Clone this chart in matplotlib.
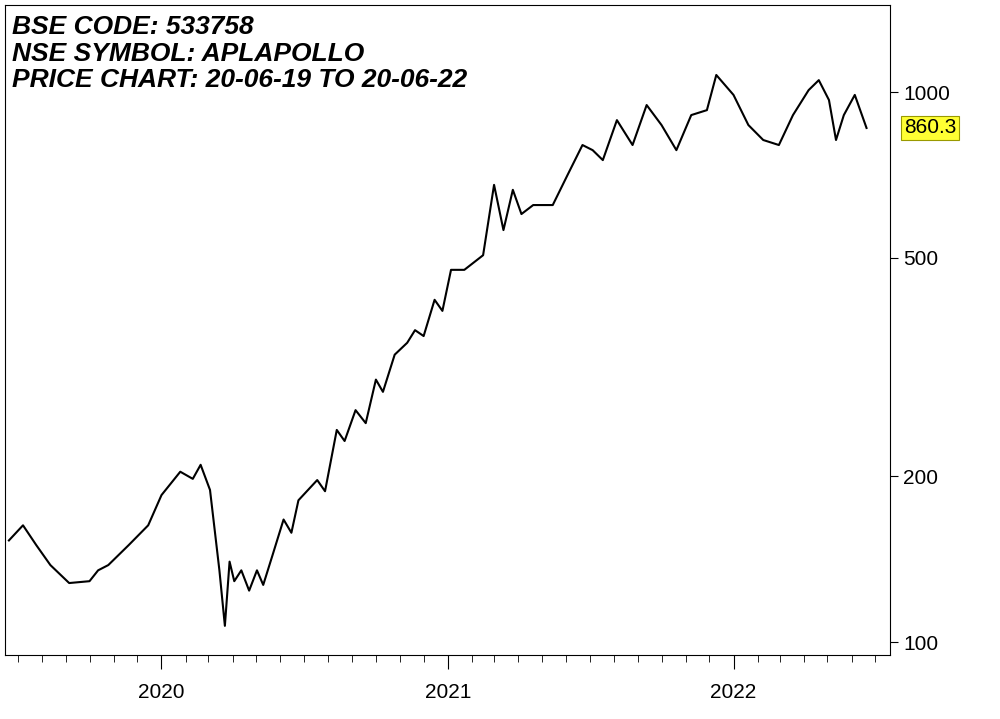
import matplotlib
matplotlib.use("Agg")
import matplotlib.pyplot as plt
import matplotlib.dates as mdates
import pandas as pd
from matplotlib.ticker import FixedLocator, NullFormatter, NullLocator

plt.rcParams["font.family"] = "Liberation Sans"

dates = ["2019-06-20","2019-07-08","2019-07-25","2019-08-12","2019-09-05","2019-10-01","2019-10-12","2019-10-25","2019-11-20","2019-12-15",
         "2020-01-01","2020-01-25","2020-02-10","2020-02-20","2020-03-03","2020-03-15","2020-03-22","2020-03-28","2020-04-03","2020-04-12","2020-04-22",
         "2020-05-02","2020-05-10","2020-05-22","2020-06-05","2020-06-15","2020-06-24","2020-07-18","2020-07-28","2020-08-12","2020-08-22","2020-09-05","2020-09-18","2020-10-01","2020-10-10","2020-10-25",
         "2020-11-10","2020-11-20","2020-12-01","2020-12-15","2020-12-25","2021-01-05","2021-01-22","2021-02-15","2021-03-01","2021-03-13","2021-03-25","2021-04-05","2021-04-20",
         "2021-05-15","2021-06-03","2021-06-22","2021-07-05","2021-07-18","2021-08-05","2021-08-25","2021-09-12","2021-10-01",
         "2021-10-20","2021-11-08","2021-11-28","2021-12-10","2022-01-01","2022-01-20","2022-02-08","2022-02-28","2022-03-18",
         "2022-04-07","2022-04-20","2022-05-03","2022-05-12","2022-05-22","2022-06-05","2022-06-20"]
prices = [153,163,150,138,128,129,135,138,150,163,
          185,204,198,210,189,135,107,140,129,135,124,
          135,127,144,167,158,181,197,188,243,232,264,250,300,285,333,
          350,369,360,419,400,475,475,505,678,561,664,600,623,
          623,707,801,784,752,889,801,947,871,
          784,908,927,1074,988,871,818,801,908,
          1008,1051,967,818,908,988,860.3]
yticks = [100, 200, 500, 1000]
last_label = "860.3"

x = pd.to_datetime(dates)
fig = plt.figure(figsize=(10, 7.19), dpi=100)
ax = fig.add_axes([0.005, 0.089, 0.885, 0.904])
ax.plot(x, prices, color="black", lw=1.5)
ax.set_yscale("log")
ax.set_ylim(10**(2-13/550), 10**(3+87/550))
ax.set_xlim(pd.Timestamp("2019-06-15"), pd.Timestamp("2022-07-20"))
ax.yaxis.tick_right()
ax.yaxis.set_major_locator(FixedLocator(yticks))
ax.yaxis.set_minor_locator(NullLocator())
ax.yaxis.set_minor_formatter(NullFormatter())
ax.set_yticklabels([str(t) for t in yticks], fontsize=15)
ax.tick_params(axis="y", direction="out", length=6)
ax.xaxis.set_major_locator(mdates.YearLocator())
ax.xaxis.set_major_formatter(mdates.DateFormatter("%Y"))
ax.xaxis.set_minor_locator(mdates.MonthLocator())
ax.tick_params(axis="x", which="major", length=10, labelsize=15, pad=10)
ax.tick_params(axis="x", which="minor", length=5)
ax.text(0.008, 0.985, "BSE CODE: 533758\nNSE SYMBOL: APLAPOLLO\nPRICE CHART: 20-06-19 TO 20-06-22",
        transform=ax.transAxes, va="top", ha="left", fontsize=19, fontweight="bold",
        fontstyle="italic", linespacing=1.15)
ax.annotate(last_label, xy=(1.0, prices[-1]), xycoords=("axes fraction", "data"),
            xytext=(10, 0), textcoords="offset points", va="center", ha="left", fontsize=15,
            bbox=dict(boxstyle="square,pad=0.12", fc="#ffff33", ec="#999900", lw=0.8))
fig.savefig("out.png")
